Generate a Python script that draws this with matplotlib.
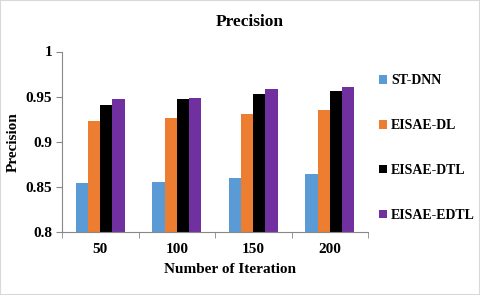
import matplotlib.pyplot as plt
import numpy as np

iterations = ['50', '100', '150', '200']
st_dnn = [0.854, 0.855, 0.860, 0.864]
eisae_dl = [0.923, 0.926, 0.931, 0.935]
eisae_dtl = [0.941, 0.947, 0.953, 0.956]
eisae_edtl = [0.947, 0.949, 0.959, 0.961]

series = [('ST-DNN', st_dnn, '#5b9bd5'),
          ('EISAE-DL', eisae_dl, '#ed7d31'),
          ('EISAE-DTL', eisae_dtl, '#000000'),
          ('EISAE-EDTL', eisae_edtl, '#7030a0')]

plt.rcParams['font.family'] = 'Liberation Serif'
plt.rcParams['font.weight'] = 'bold'

fig = plt.figure(figsize=(4.8, 2.95), dpi=100)
ax = fig.add_axes([62 / 480, 1 - 232 / 295, 306 / 480, 180.5 / 295])

x = np.arange(len(iterations))
w = 0.16
for i, (name, vals, col) in enumerate(series):
    ax.bar(x + (i - 1.5) * w, vals, w, color=col, label=name)

ax.set_ylim(0.8, 1.0)
ax.set_xlim(-0.5, len(iterations) - 0.5)
ax.set_yticks([0.8, 0.85, 0.9, 0.95, 1.0])
ax.set_yticklabels(['0.8', '0.85', '0.9', '0.95', '1'], fontsize=11, fontweight='bold')
ax.set_xticks(x)
ax.set_xticklabels(iterations, fontsize=11, fontweight='bold')
ax.tick_params(axis='x', length=0, pad=8)
ax.set_xticks(np.arange(-0.5, len(iterations)), minor=True)
ax.tick_params(axis='x', which='minor', length=4, color='#888888')
ax.tick_params(axis='y', length=4, color='#888888', pad=3)
for s in ['top', 'right']:
    ax.spines[s].set_visible(False)
for s in ['left', 'bottom']:
    ax.spines[s].set_color('#888888')

ax.set_xlabel('Number of Iteration', fontsize=11, fontweight='bold')
ax.xaxis.set_label_coords(0.549, -0.17)
ax.set_ylabel('Precision', fontsize=11, fontweight='bold', labelpad=4)
fig.text(0.52, 1 - 22 / 295, 'Precision', ha='center', va='center', fontsize=12.5, fontweight='bold')

fig.legend(loc='center left', bbox_to_anchor=(366 / 480, 1 - 148 / 295), frameon=False,
           labelspacing=2.3, handlelength=0.6, handleheight=0.6, handletextpad=0.3,
           prop={'weight': 'bold', 'size': 10})

fig.patches.append(plt.Rectangle((0, 0), 1, 1, transform=fig.transFigure, fill=False,
                                 edgecolor='#d9d9d9', linewidth=1.5))

plt.savefig('out.png', dpi=100)
